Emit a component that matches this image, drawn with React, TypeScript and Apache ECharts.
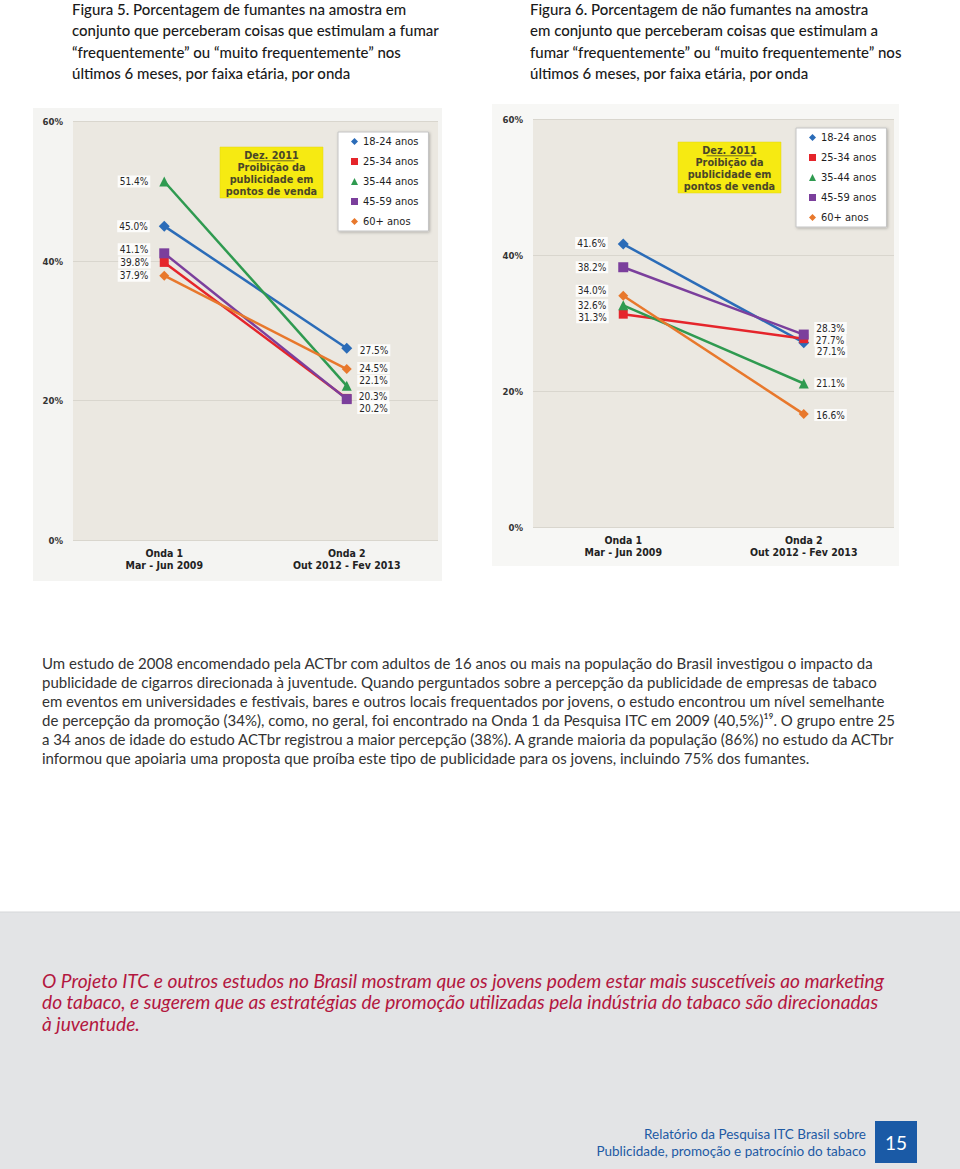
import React, { useEffect, useRef } from "react";
import * as echarts from "echarts";

// ---------- DATA ----------
const categories = ["Onda 1\nMar - Jun 2009", "Onda 2\nOut 2012 - Fev 2013"];
const ageGroups = ["18-24 anos", "25-34 anos", "35-44 anos", "45-59 anos", "60+ anos"];

// Figura 5 – fumantes
const fig5_18_24 = [45.0, 27.5];
const fig5_25_34 = [39.8, 20.3];
const fig5_35_44 = [51.4, 22.1];
const fig5_45_59 = [41.1, 20.2];
const fig5_60 = [37.9, 24.5];

// Figura 6 – não fumantes
const fig6_18_24 = [41.6, 27.1];
const fig6_25_34 = [31.3, 27.7];
const fig6_35_44 = [32.6, 21.1];
const fig6_45_59 = [38.2, 28.3];
const fig6_60 = [34.0, 16.6];

const yMin = 0;
const yMax = 60;
const yInterval = 20;

const title5 = [
  "Figura 5. Porcentagem de fumantes na amostra em",
  "conjunto que perceberam coisas que estimulam a fumar",
  "\u201cfrequentemente\u201d ou \u201cmuito frequentemente\u201d nos",
  "últimos 6 meses, por faixa etária, por onda",
];
const title6 = [
  "Figura 6. Porcentagem de não fumantes na amostra",
  "em conjunto que perceberam coisas que estimulam a",
  "fumar \u201cfrequentemente\u201d ou \u201cmuito frequentemente\u201d nos",
  "últimos 6 meses, por faixa etária, por onda",
];
const bodyLines = [
  "Um estudo de 2008 encomendado pela ACTbr com adultos de 16 anos ou mais na população do Brasil investigou o impacto da",
  "publicidade de cigarros direcionada à juventude. Quando perguntados sobre a percepção da publicidade de empresas de tabaco",
  "em eventos em universidades e festivais, bares e outros locais frequentados por jovens, o estudo encontrou um nível semelhante",
  "de percepção da promoção (34%), como, no geral, foi encontrado na Onda 1 da Pesquisa ITC em 2009 (40,5%)\u00b9\u2079. O grupo entre 25",
  "a 34 anos de idade do estudo ACTbr registrou a maior percepção (38%). A grande maioria da população (86%) no estudo da ACTbr",
  "informou que apoiaria uma proposta que proíba este tipo de publicidade para os jovens, incluindo 75% dos fumantes.",
];
const quoteLines = [
  "O Projeto ITC e outros estudos no Brasil mostram que os jovens podem estar mais suscetíveis ao marketing",
  "do tabaco, e sugerem que as estratégias de promoção utilizadas pela indústria do tabaco são direcionadas",
  "à juventude.",
];
const footerLines = [
  "Relatório da Pesquisa ITC Brasil sobre",
  "Publicidade, promoção e patrocínio do tabaco",
];
const pageNumber = "15";
const noteLines = ["Dez. 2011", "Proibição da", "publicidade em", "pontos de venda"];

// ---------- STYLE ----------
const FONT_UI = "'DejaVu Sans Condensed', 'DejaVu Sans', sans-serif";
const FONT_TXT = "Lato, 'Noto Sans', sans-serif";
const colors = ["#2b6cb8", "#e5252b", "#2f9a50", "#7b3f9c", "#e8782c"];
const symbols = ["diamond", "rect", "triangle", "rect", "diamond"];
const symbolSizes = [11, 9, 10, 10, 10];

// label vertical offsets (px) for [Onda 1, Onda 2] of each group
const offsets5 = [[0, 2], [0, -2], [0, -5], [-4, 9], [0, -1]];
const offsets6 = [[-1, 9], [3, 1.5], [0, 0], [0, -6.5], [-5, 1]];

const fig5 = [fig5_18_24, fig5_25_34, fig5_35_44, fig5_45_59, fig5_60];
const fig6 = [fig6_18_24, fig6_25_34, fig6_35_44, fig6_45_59, fig6_60];

function buildSeries(values: number[][], offs: number[][], gridIndex: number, leftDist: number, rightDist: number) {
  return values.map((vals, i) => ({
    type: "line",
    name: ageGroups[i],
    xAxisIndex: gridIndex,
    yAxisIndex: gridIndex,
    symbol: symbols[i],
    symbolSize: symbolSizes[i],
    color: colors[i],
    lineStyle: { width: 2.5, color: colors[i] },
    itemStyle: { color: colors[i] },
    data: vals.map((v, j) => ({
      value: v,
      label: {
        position: j === 0 ? "left" : "right",
        distance: j === 0 ? leftDist : rightDist,
        offset: [0, offs[i][j]],
      },
    })),
    label: {
      show: true,
      formatter: (p: any) => Number(p.value).toFixed(1) + "%",
      fontFamily: FONT_UI,
      fontSize: 10,
      color: "#262626",
      backgroundColor: "rgba(255,255,255,0.85)",
      padding: [1, 2],
    },
    emphasis: { disabled: true },
    z: 3 + i,
  }));
}

function legendCfg(left: number, top: number) {
  return {
    left,
    top,
    orient: "vertical",
    selectedMode: false,
    data: ageGroups.map((n, i) => ({ name: n, icon: symbols[i] })),
    itemWidth: 7,
    itemHeight: 7,
    itemGap: 7,
    padding: [3, 10, 3, 13],
    backgroundColor: "#ffffff",
    borderColor: "#c4c4c4",
    borderWidth: 1,
    shadowBlur: 3,
    shadowColor: "rgba(0,0,0,0.25)",
    shadowOffsetX: 1,
    shadowOffsetY: 1,
    textStyle: { fontFamily: FONT_UI, fontSize: 11, color: "#1e1e1e", lineHeight: 13 },
  };
}

function noteBox(x: number, y: number) {
  const w = 103;
  const h = 51;
  const cx = x + w / 2;
  const children: any[] = [
    { type: "rect", shape: { x, y, width: w, height: h }, style: { fill: "#f6ea12", stroke: "#e0d410", lineWidth: 0.5 } },
  ];
  noteLines.forEach((t, i) => {
    children.push({
      type: "text",
      style: {
        text: t,
        x: cx,
        y: y + 8.5 + i * 12,
        textAlign: "center",
        textVerticalAlign: "middle",
        fontFamily: FONT_UI,
        fontSize: 10.8,
        fontWeight: "bold",
        fill: "#4a4628",
      },
    });
  });
  children.push({
    type: "line",
    shape: { x1: cx - 23, y1: y + 13.8, x2: cx + 23, y2: y + 13.8 },
    style: { stroke: "#4a4628", lineWidth: 0.8 },
  });
  return { type: "group", z: 50, children };
}

function textLines(lines: string[], x: number, y0: number, dy: number, font: any) {
  return lines.map((t, i) => ({
    type: "text",
    z: 10,
    style: { text: t, x, y: y0 + i * dy, textVerticalAlign: "middle", ...font },
  }));
}

export default function App() {
  const ref = useRef<HTMLDivElement>(null);
  useEffect(() => {
    if (!ref.current) return;
    const chart = echarts.init(ref.current, undefined, { renderer: "svg" });

    const yAxisBase = {
      type: "value",
      min: yMin,
      max: yMax,
      interval: yInterval,
      axisLabel: {
        formatter: "{value}%",
        fontFamily: FONT_UI,
        fontSize: 9.5,
        fontWeight: "bold",
        color: "#333",
        margin: 10,
      },
      axisLine: { show: false },
      axisTick: { show: false },
      splitLine: { lineStyle: { color: "#d9d6ce", width: 1 } },
    };
    const xAxisBase = {
      type: "category",
      data: categories,
      boundaryGap: true,
      axisLine: { show: false },
      axisTick: { show: false },
      splitLine: { show: false },
      axisLabel: {
        fontFamily: FONT_UI,
        fontSize: 10.5,
        fontWeight: "bold",
        color: "#222",
        lineHeight: 12,
        margin: 7,
      },
    };

    const graphics: any[] = [
      { type: "rect", z: -5, shape: { x: 33, y: 108, width: 409, height: 473 }, style: { fill: "#f4f4f2" } },
      { type: "rect", z: -5, shape: { x: 492, y: 104, width: 407, height: 462 }, style: { fill: "#f7f7f5" } },
      noteBox(220, 147),
      noteBox(678, 142),
      ...textLines(title5, 72, 8.5, 21.5, { fontFamily: FONT_TXT, fontSize: 15, fontWeight: 500, fill: "#1a1a1a" }),
      ...textLines(title6, 530, 8.5, 21.5, { fontFamily: FONT_TXT, fontSize: 15, fontWeight: 500, fill: "#1a1a1a" }),
      ...textLines(bodyLines, 42, 662.5, 19, { fontFamily: FONT_TXT, fontSize: 15, fill: "#333333" }),
      { type: "rect", z: 0, shape: { x: 0, y: 912, width: 960, height: 257 }, style: { fill: "#e3e4e6" } },
      { type: "line", z: 1, shape: { x1: 0, y1: 912, x2: 960, y2: 912 }, style: { stroke: "#d6d7d9", lineWidth: 1 } },
      ...textLines(quoteLines, 42, 980, 21.5, { fontFamily: FONT_TXT, fontSize: 19.2, fontStyle: "italic", fill: "#b3173f" }),
      ...footerLines.map((t, i) => ({
        type: "text",
        z: 10,
        style: {
          text: t,
          x: 866,
          y: 1134 + i * 17,
          textAlign: "right",
          textVerticalAlign: "middle",
          fontFamily: FONT_TXT,
          fontSize: 13.5,
          fill: "#1d5aa4",
        },
      })),
      { type: "rect", z: 10, shape: { x: 875, y: 1121, width: 42, height: 42 }, style: { fill: "#1a5aa6" } },
      {
        type: "text",
        z: 11,
        style: {
          text: pageNumber,
          x: 896,
          y: 1142,
          textAlign: "center",
          textVerticalAlign: "middle",
          fontFamily: FONT_TXT,
          fontSize: 19,
          fill: "#ffffff",
        },
      },
    ];

    chart.setOption({
      animation: false,
      backgroundColor: "#ffffff",
      grid: [
        { left: 73, top: 121.5, width: 365, height: 418.5, show: true, backgroundColor: "#ebe8e1", borderWidth: 0 },
        { left: 533, top: 119, width: 361, height: 408, show: true, backgroundColor: "#ebe8e1", borderWidth: 0 },
      ],
      xAxis: [
        { ...xAxisBase, gridIndex: 0 },
        { ...xAxisBase, gridIndex: 1 },
      ],
      yAxis: [
        { ...yAxisBase, gridIndex: 0 },
        { ...yAxisBase, gridIndex: 1 },
      ],
      legend: [legendCfg(338, 132), legendCfg(796, 128)],
      series: [
        ...buildSeries(fig5, offsets5, 0, 9, 5.5),
        ...buildSeries(fig6, offsets6, 1, 10, 5.5),
      ],
      graphic: { elements: graphics },
    });

    return () => chart.dispose();
  }, []);

  return (
    <div
      ref={ref}
      style={{ position: "absolute", left: 0, top: 0, width: 960, height: 1169 }}
    />
  );
}
